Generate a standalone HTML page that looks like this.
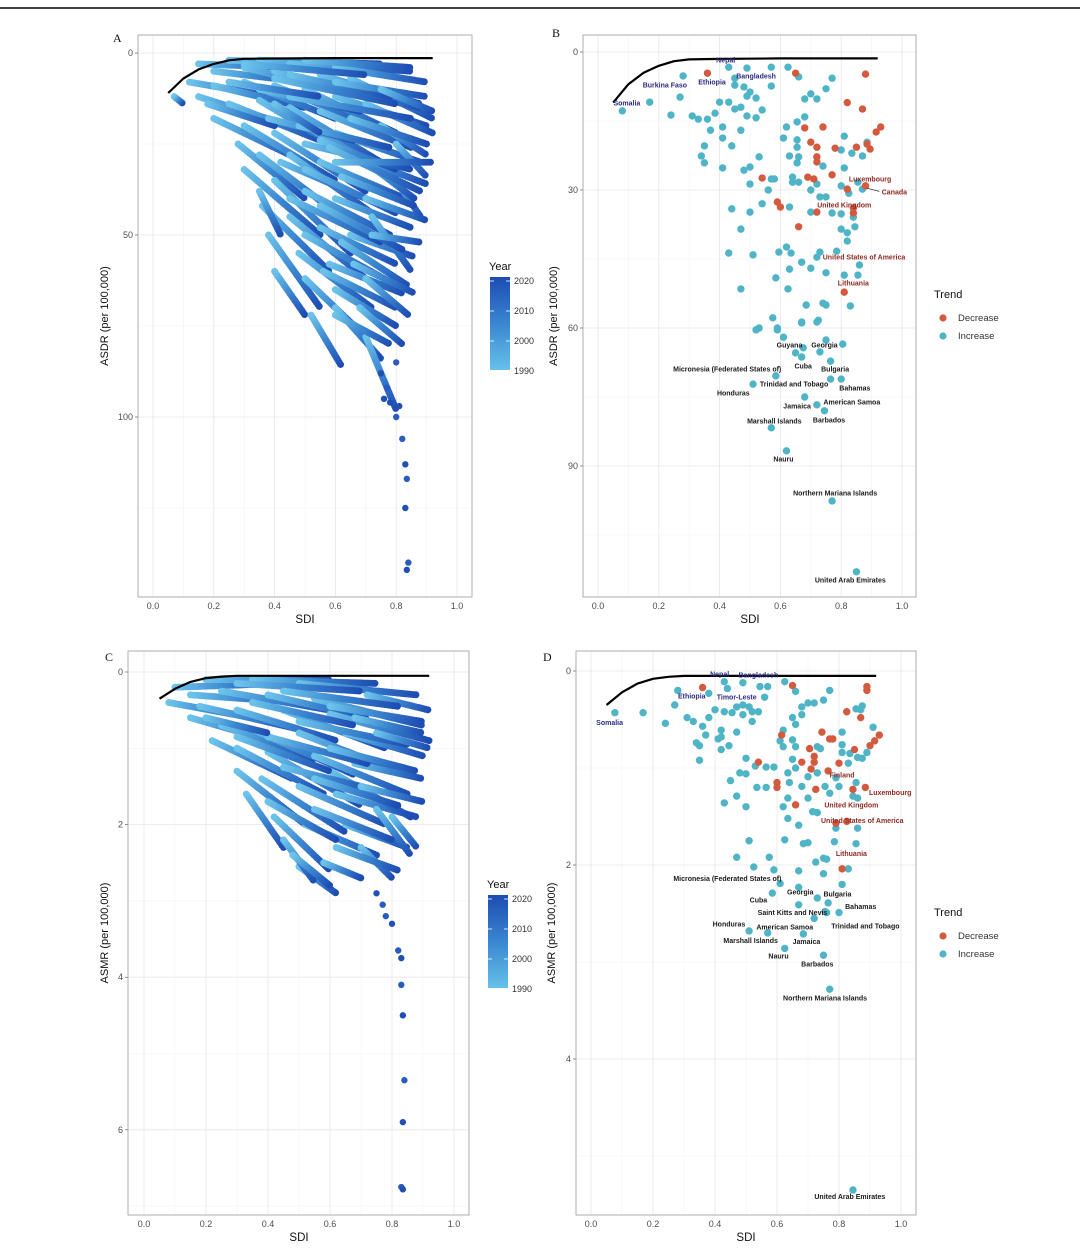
<!DOCTYPE html>
<html><head><meta charset="utf-8"><style>
html,body{margin:0;padding:0;background:#fff;}
svg{display:block;font-family:"Liberation Sans",sans-serif;}
</style></head><body>
<svg id="fig" width="1080" height="1252" viewBox="0 0 1080 1252" xmlns="http://www.w3.org/2000/svg">
<defs>
<linearGradient id="yearbar" x1="0" y1="0" x2="0" y2="1"><stop offset="0" stop-color="#1d4cb3"/><stop offset="0.5" stop-color="#3a86d0"/><stop offset="1" stop-color="#66c1ea"/></linearGradient>
</defs>
<line x1="0" y1="8" x2="1080" y2="8" stroke="#000" stroke-width="1.5"/>
</svg>
<script>
// ---------- DATA ----------
// Panel A trajectories: 1990 SDI, 1990 ASDR, 2021 SDI, 2021 ASDR
const aStartSDI=[0.15,0.25,0.35,0.45,0.6,0.2,0.3,0.4,0.55,0.65,0.12,0.2,0.3,0.4,0.5,0.6,0.07,0.15,0.25,0.35,0.45,0.55,0.7,0.2,0.3,0.4,0.5,0.6,0.28,0.35,0.45,0.55,0.65,0.3,0.4,0.5,0.6,0.36,0.45,0.55,0.65,0.38,0.48,0.58,0.4,0.5,0.6,0.52,0.6,0.68,0.7,0.35,0.75,0.8,0.72,0.62,0.7,0.45,0.55,
 0.3,0.5,0.4,0.6,0.35,0.45,0.65,0.5,0.58,0.42,0.5,0.62,0.45,0.55,0.7,0.5,0.62,0.56,0.66,0.6,0.7,0.72,0.25,0.18,0.38,0.48,0.75,0.8,0.6,0.4];
const aStartVal=[3,2,2,3,4,5,4,5,6,7,8,9,8,9,10,12,12,12,14,13,15,16,14,18,20,22,20,22,25,28,28,30,28,32,35,38,40,42,45,48,50,50,55,58,60,62,65,72,70,70,78,38,20,35,45,10,30,6,24,
 3,2,7,8,10,12,18,25,26,30,32,34,40,42,40,50,52,60,58,72,62,50,8,14,18,20,10,25,30,14];
const aEndSDI=[0.45,0.6,0.75,0.85,0.9,0.5,0.6,0.7,0.88,0.92,0.4,0.5,0.6,0.72,0.8,0.9,0.1,0.45,0.55,0.65,0.75,0.85,0.92,0.5,0.6,0.7,0.8,0.88,0.5,0.62,0.72,0.83,0.9,0.55,0.65,0.78,0.85,0.58,0.7,0.8,0.86,0.55,0.72,0.82,0.5,0.7,0.8,0.62,0.75,0.82,0.8,0.42,0.9,0.88,0.85,0.88,0.86,0.78,0.8,
 0.7,0.85,0.8,0.9,0.68,0.85,0.9,0.85,0.88,0.7,0.8,0.86,0.75,0.82,0.9,0.76,0.84,0.8,0.86,0.78,0.84,0.88,0.55,0.4,0.66,0.78,0.92,0.9,0.92,0.55];
const aEndVal=[4,3,3,5,8,8,10,12,14,18,12,15,18,20,22,20,14,20,24,28,30,26,22,30,35,38,34,30,40,45,44,40,36,50,55,50,48,60,62,58,56,70,70,66,72,78,75,86,84,80,98,50,28,45,60,15,40,12,32,
 6,4,14,12,16,18,25,32,38,40,44,42,52,54,46,62,64,70,66,80,72,52,12,20,24,26,16,34,30,22];
const aTailSDI=[0.75,0.77,0.78,0.8,0.81,0.82,0.83,0.835,0.83,0.84,0.835,0.8,0.76];
const aTailVal=[88,92,96,100,97,106,113,117,125,140,142,85,95];
// Panel C trajectories (ASMR)
const cStartSDI=[0.1,0.2,0.35,0.5,0.15,0.25,0.4,0.55,0.08,0.18,0.3,0.45,0.6,0.15,0.25,0.35,0.5,0.65,0.22,0.3,0.4,0.55,0.68,0.3,0.38,0.5,0.62,0.33,0.42,0.52,0.65,0.5,0.45,0.7,0.72,0.6,0.75,
 0.3,0.45,0.6,0.35,0.5,0.4,0.6,0.45,0.55,0.7,0.4,0.55,0.62,0.48,0.2,0.75,0.68,0.3,0.58,0.8];
const cStartVal=[0.2,0.1,0.1,0.15,0.3,0.25,0.3,0.35,0.4,0.45,0.5,0.5,0.55,0.6,0.7,0.75,0.8,0.8,0.9,1.0,1.05,1.1,1.2,1.3,1.4,1.5,1.6,1.6,1.9,2.0,2.0,2.55,2.2,2.3,0.3,1.3,1.8,
 0.15,0.25,0.45,0.4,0.65,0.85,1.0,1.25,1.4,1.5,1.7,1.8,2.3,2.4,0.6,0.8,0.6,0.85,2.5,1.9];
const cEndSDI=[0.45,0.6,0.75,0.88,0.5,0.6,0.72,0.9,0.35,0.5,0.62,0.78,0.92,0.45,0.55,0.68,0.82,0.9,0.48,0.58,0.7,0.85,0.9,0.52,0.65,0.78,0.88,0.45,0.6,0.75,0.85,0.62,0.55,0.8,0.92,0.86,0.86,
 0.7,0.82,0.9,0.68,0.85,0.72,0.88,0.75,0.82,0.9,0.62,0.8,0.82,0.6,0.4,0.92,0.9,0.6,0.7,0.88];
const cEndVal=[0.15,0.1,0.15,0.3,0.4,0.5,0.6,0.7,0.6,0.75,0.9,1.0,0.9,0.95,1.15,1.35,1.3,1.1,1.4,1.6,1.75,1.6,1.4,2.0,2.1,2.0,1.9,2.3,2.6,2.4,2.3,2.9,2.75,2.7,0.5,1.9,2.4,
 0.25,0.45,0.65,0.7,0.95,1.2,1.3,1.55,1.75,1.7,2.2,2.2,2.6,2.8,0.8,1.0,0.8,1.3,2.7,2.3];
const cTailSDI=[0.75,0.78,0.8,0.82,0.83,0.83,0.835,0.84,0.835,0.83,0.835,0.77];
const cTailVal=[2.9,3.2,3.3,3.65,3.75,4.1,4.5,5.35,5.9,6.75,6.78,3.05];
// Frontier
const frontierSDI=[0.05,0.1,0.15,0.2,0.25,0.3,0.4,0.6,0.8,0.92];
const frontierASDR=[11,7,4.5,3,2,1.6,1.5,1.4,1.4,1.4];
const frontierASMR=[0.35,0.22,0.13,0.08,0.06,0.05,0.05,0.05,0.05,0.05];
// Panel B points
const bIncSDI=[.08,.17,.28,.27,.24,.31,.33,.36,.385,.40,.43,.45,.47,.49,.52,.54,.49,.50,.52,.43,.49,.45,.45,.48,.57,.57,.625,.66,.77,.75,.70,.68,.72,.37,.41,.41,.47,.35,.44,.34,.35,.41,.48,.50,.53,.50,.56,.57,.58,.62,.655,.68,.61,.655,.655,.63,.66,.655,.64,.64,.66,.70,.72,.73,.75,.74,.81,.81,.80,.835,.87,.885,.80,.825,.855,.87,.70,.77,.80,.84,.845,.82,.80,.82,.63,.54,.50,.44,.47,.43,.51,.595,.62,.635,.67,.70,.73,.72,.785,.75,.81,.855,.86,.63,.585,.47,.625,.685,.75,.83,.74,.67,.725,.575,.53,.59,.52,.59,.61,.67,.72,.75,.805,.675,.65,.67,.73,.765,.585,.51,.765,.80,.68,.72,.745,.57,.62,.77,.85];
const bIncVal=[12.8,10.9,5.2,9.8,13.7,13.9,14.6,14.6,13.3,10.9,10.9,12.4,12,13.9,14.3,12.6,9.6,8.7,10,3.3,3.5,5.7,7.2,7.6,7.4,3.3,3.3,5.4,5.7,8,9.1,10.2,10.2,17,16.3,18.7,17,20.4,20.4,22.6,24.1,25.2,25.7,25,22.8,28.7,30,27.6,27.6,16.3,15.2,14.1,18.7,19.1,20.7,22.6,22.8,24.1,27.2,28.3,28.3,30,28.7,31.5,31.5,24.8,25.2,18.3,21.3,22,22.6,19.6,29.1,30.7,28.3,29.8,34.8,35,35.2,35.9,38,39.3,38.5,41.1,33.7,33,34.8,34.1,38.5,43.7,44.1,43.5,42.4,43.7,45.7,47,43.5,44.6,43.3,48,48.5,48.5,46.3,47.2,49.1,51.5,51.5,55,55,55.2,54.6,58.7,58.3,57.8,60,60,60.4,60.4,62,58.9,58.7,62.6,63.5,64.3,65.4,66.3,65.2,67.2,70.4,72.2,71.1,71.1,75,76.7,78,81.7,86.7,97.6,113];
const bDecSDI=[.36,.65,.88,.82,.87,.68,.74,.70,.72,.78,.85,.885,.895,.915,.93,.72,.72,.69,.71,.77,.54,.82,.88,.59,.60,.72,.84,.84,.66,.81];
const bDecVal=[4.6,4.6,4.8,11,12.4,16.5,16.3,19.6,20.7,20.9,20.7,20,21.1,17.4,16.3,22.8,23.9,27.2,27.6,26.7,27.4,29.8,29.1,32.6,33.7,34.8,33.9,35,38,52.2];
// Panel D points
const dIncSDI=[.077,.168,.24,.27,.28,.31,.33,.36,.37,.34,.35,.35,.38,.40,.42,.41,.42,.42,.445,.43,.455,.47,.49,.51,.52,.54,.49,.52,.47,.43,.49,.44,.545,.57,.56,.38,.625,.66,.68,.70,.72,.75,.77,.68,.65,.66,.62,.61,.65,.62,.66,.73,.74,.81,.81,.81,.835,.86,.875,.89,.87,.855,.875,.91,.83,.50,.53,.565,.59,.65,.66,.635,.70,.73,.79,.48,.50,.45,.535,.565,.64,.68,.755,.77,.80,.845,.855,.86,.47,.43,.50,.62,.635,.70,.715,.73,.67,.635,.79,.86,.51,.625,.685,.70,.785,.855,.47,.525,.575,.59,.67,.725,.75,.76,.75,.83,.61,.67,.81,.585,.67,.73,.765,.755,.80,.76,.72,.51,.57,.685,.625,.75,.77,.845];
const dIncVal=[.43,.43,.54,.35,.2,.48,.52,.57,.66,.74,.77,.92,.48,.4,.61,.7,.68,.81,.77,.42,.43,.37,.35,.37,.42,.42,.45,.52,.63,.11,.12,.18,.16,.16,.27,.23,.11,.21,.37,.33,.33,.3,.2,.45,.48,.55,.61,.72,.71,.78,.78,.78,.8,.76,.63,.84,.85,.89,.9,.84,.4,.39,.36,.58,.95,.9,.98,.99,.99,.91,1.0,1.05,1.09,1.05,1.1,1.05,1.06,1.13,1.2,1.2,1.15,1.19,1.19,1.26,1.19,1.29,1.15,1.31,1.29,1.36,1.4,1.4,1.31,1.31,1.45,1.46,1.59,1.52,1.62,1.62,1.75,1.74,1.78,1.77,1.76,1.78,1.92,2.02,1.92,2.05,2.06,1.97,1.93,1.94,2.09,2.04,2.19,2.23,2.2,2.29,2.41,2.34,2.39,2.48,2.49,2.49,2.55,2.68,2.7,2.71,2.86,2.93,3.28,5.35];
const dDecSDI=[.36,.65,.89,.89,.825,.87,.615,.745,.77,.78,.705,.72,.68,.72,.71,.765,.80,.85,.90,.915,.93,.54,.60,.60,.725,.66,.845,.885,.79,.825,.81];
const dDecVal=[.17,.15,.16,.2,.42,.48,.66,.63,.7,.7,.8,.88,.94,.94,1.01,1.03,.95,.81,.77,.72,.66,.94,1.15,1.2,1.22,1.38,1.22,1.2,1.57,1.55,2.04];
// Country labels: text, SDI, value, group (0 navy, 1 red, 2 black)
const bLabelText=["Nepal","Bangladesh","Ethiopia","Burkina Faso","Somalia","Luxembourg","Canada","United Kingdom","United States of America","Lithuania","Guyana","Georgia","Micronesia (Federated States of)","Cuba","Bulgaria","Trinidad and Tobago","Bahamas","Honduras","American Samoa","Jamaica","Barbados","Marshall Islands","Nauru","Northern Mariana Islands","United Arab Emirates"];
const bLabelSDI=[.42,.52,.375,.22,.095,.895,.975,.81,.875,.84,.63,.745,.425,.675,.78,.645,.845,.445,.835,.655,.76,.58,.61,.78,.83];
const bLabelVal=[1.7,5.2,6.5,7.2,11.1,27.6,30.4,33.3,44.6,50.2,63.7,63.7,68.9,68.3,68.9,72.2,73,74.1,76.1,77,80,80.2,88.5,95.9,114.8];
const bLabelGroup=[0,0,0,0,0,1,1,1,1,1,2,2,2,2,2,2,2,2,2,2,2,2,2,2,2];
const dLabelText=["Nepal","Bangladesh","Ethiopia","Timor-Leste","Somalia","Finland","Luxembourg","United Kingdom","United States of America","Lithuania","Micronesia (Federated States of)","Georgia","Bulgaria","Cuba","Bahamas","Saint Kitts and Nevis","Honduras","American Samoa","Trinidad and Tobago","Marshall Islands","Jamaica","Nauru","Barbados","Northern Mariana Islands","United Arab Emirates"];
const dLabelSDI=[.415,.54,.325,.47,.06,.81,.965,.84,.875,.84,.44,.675,.795,.54,.87,.65,.445,.625,.885,.515,.695,.605,.73,.755,.835];
const dLabelVal=[.03,.04,.26,.27,.53,1.07,1.25,1.38,1.54,1.88,2.14,2.28,2.3,2.36,2.43,2.49,2.61,2.64,2.63,2.78,2.79,2.94,3.02,3.37,5.42];
const dLabelGroup=[0,0,0,0,0,1,1,1,1,1,2,2,2,2,2,2,2,2,2,2,2,2,2,2,2];
const sdiTicks=[0,0.2,0.4,0.6,0.8,1.0];
const sdiTickLabels=["0.0","0.2","0.4","0.6","0.8","1.0"];

// ---------- DRAW ----------
const NS="http://www.w3.org/2000/svg";
const svg=document.getElementById('fig');
function mk(tag,attrs,parent){const e=document.createElementNS(NS,tag);for(const k in attrs)e.setAttribute(k,attrs[k]);(parent||svg).appendChild(e);return e;}

const panels={
 A:{L:138,R:472,T:35,B:597,x0:153,x1:457,v0:53,k:3.64,ticks:[0,50,100],minor:[25,75,125],yt:"ASDR (per 100,000)",ytx:108,letter:[113,42]},
 B:{L:583,R:916,T:35,B:597,x0:598,x1:902,v0:52,k:4.6,ticks:[0,30,60,90],minor:[15,45,75,105],yt:"ASDR (per 100,000)",ytx:557,letter:[552,37]},
 C:{L:128,R:469,T:651,B:1215,x0:144,x1:454,v0:672,k:76.3,ticks:[0,2,4,6],minor:[1,3,5,7],yt:"ASMR (per 100,000)",ytx:108,letter:[105,661]},
 D:{L:576,R:916,T:651,B:1215,x0:591,x1:901,v0:671,k:97,ticks:[0,2,4],minor:[1,3,5],yt:"ASMR (per 100,000)",ytx:555,letter:[543,661]}
};
function xs(p,s){return p.x0+(p.x1-p.x0)*s;}
function ys(p,v){return p.v0+p.k*v;}

function drawFrame(id){
 const p=panels[id];
 const g=mk('g',{});
 
 
 const bg=mk('rect',{x:p.L,y:p.T,width:p.R-p.L,height:p.B-p.T,fill:'#fff'},g);
 
 
 for(let s=0.1;s<1;s+=0.2){const l=mk('line',{x1:xs(p,s),x2:xs(p,s),y1:p.T,y2:p.B,stroke:'#f3f3f3','stroke-width':0.6},g);}
 p.minor.forEach(v=>{const y=ys(p,v);if(y<p.B){const l=mk('line',{x1:p.L,x2:p.R,y1:y,y2:y,stroke:'#f3f3f3','stroke-width':0.6},g);}});
 sdiTicks.forEach((s,i)=>{
  const l=mk('line',{x1:xs(p,s),x2:xs(p,s),y1:p.T,y2:p.B,stroke:'#e6e6e6','stroke-width':0.8},g);
  
  
  const t=mk('text',{x:xs(p,s),y:p.B+12,'text-anchor':'middle','font-size':9,fill:'#4d4d4d'},g);
  t.textContent=sdiTickLabels[i];
  
  
 });
 p.ticks.forEach(v=>{
  const y=ys(p,v);
  const l=mk('line',{x1:p.L,x2:p.R,y1:y,y2:y,stroke:'#e6e6e6','stroke-width':0.8},g);
  
  
  mk('line',{x1:p.L-3,x2:p.L,y1:y,y2:y,stroke:'#444','stroke-width':0.6},g);
  const t=mk('text',{x:p.L-5,y:y+3,'text-anchor':'end','font-size':9,fill:'#4d4d4d'},g);
  t.textContent=String(v);
  
  
 });
 const br=mk('rect',{x:p.L,y:p.T,width:p.R-p.L,height:p.B-p.T,fill:'none',stroke:'#9a9a9a','stroke-width':0.8},g);
 
 
 const xt=mk('text',{x:(p.x0+p.x1)/2,y:p.B+26,'text-anchor':'middle','font-size':11.5,fill:'#111'},g);
 xt.textContent='SDI';
 
 
 const cy=(p.T+p.B)/2;
 const yt=mk('text',{x:p.ytx,y:cy,'text-anchor':'middle','font-size':11,fill:'#111',transform:`rotate(-90 ${p.ytx} ${cy})`},g);
 yt.textContent=p.yt;
 
 
 const lt=mk('text',{x:p.letter[0],y:p.letter[1],'font-size':12,fill:'#111','font-family':'Liberation Serif, serif'},g);
 lt.textContent=id;
 
 
 return g;
}

function drawFrontier(id,vals,g){
 const p=panels[id];
 let d='';
 frontierSDI.forEach((s,i)=>{d+=(i?'L':'M')+xs(p,s).toFixed(1)+' '+ys(p,vals[i]).toFixed(1);});
 const path=mk('path',{d:d,fill:'none',stroke:'#000','stroke-width':2.2,'stroke-linejoin':'round'},g);
 
 
}

let gid=0;
function drawTraj(id,sS,sV,eS,eV,tS,tV){
 const g=drawFrame(id);const p=panels[id];
 const defs=svg.querySelector('defs');
 for(let i=0;i<sS.length;i++){
  const x1=xs(p,sS[i]),y1=ys(p,sV[i]),x2=xs(p,eS[i]),y2=ys(p,eV[i]);
  const gr=mk('linearGradient',{id:'tg'+gid,gradientUnits:'userSpaceOnUse',x1:x1,y1:y1,x2:x2,y2:y2},defs);
  mk('stop',{offset:0,'stop-color':'#6cc3ea'},gr);mk('stop',{offset:0.5,'stop-color':'#3a84cf'},gr);mk('stop',{offset:1,'stop-color':'#1d4cb3'},gr);
  const l=mk('line',{x1:x1,y1:y1,x2:x2,y2:y2,stroke:`url(#tg${gid})`,'stroke-width':7,'stroke-linecap':'round','stroke-dasharray':'0 2.5'},g);
  
  
  gid++;
 }
 for(let i=0;i<tS.length;i++){
  const c=mk('circle',{cx:xs(p,tS[i]),cy:ys(p,tV[i]),r:3.2,fill:i%2?'#2a5cbf':'#2050b5'},g);
  
  
 }
 drawFrontier(id,id==='A'?frontierASDR:frontierASMR,g);
}

function drawScatter(id,iS,iV,dS,dV,lt,ls,lv,lg,fr){
 const g=drawFrame(id);const p=panels[id];
 for(let i=0;i<iS.length;i++){const c=mk('circle',{cx:xs(p,iS[i]),cy:ys(p,iV[i]),r:3.7,fill:'#4fb5c6'},g);}
 for(let i=0;i<dS.length;i++){const c=mk('circle',{cx:xs(p,dS[i]),cy:ys(p,dV[i]),r:3.7,fill:'#d35a3f'},g);}
 drawFrontier(id,fr,g);
 const cols=['#2c2a80','#8e2a22','#1a1a1a'];
 for(let i=0;i<lt.length;i++){
  const t=mk('text',{x:xs(p,ls[i]),y:ys(p,lv[i])+2.5,'text-anchor':'middle','font-size':7,'font-weight':'bold',fill:cols[lg[i]]},g);
  t.textContent=lt[i];
  
  
 }
}

function yearLegend(x,y){
 const g=mk('g',{});
 
 
 const t=mk('text',{x:x,y:y,'font-size':11,fill:'#111'},g);t.textContent='Year';
 mk('rect',{x:x+1,y:y+7,width:20,height:93,fill:'url(#yearbar)'},g);
 const yrs=['2020','2010','2000','1990'];
 yrs.forEach((s,i)=>{const yy=y+11+i*30;
  mk('line',{x1:x+1,x2:x+5,y1:yy,y2:yy,stroke:'#fff','stroke-width':0.8},g);
  mk('line',{x1:x+17,x2:x+21,y1:yy,y2:yy,stroke:'#fff','stroke-width':0.8},g);
  const l=mk('text',{x:x+25,y:yy+3,'font-size':9,fill:'#333'},g);l.textContent=s;});
}
function trendLegend(x,y){
 const g=mk('g',{});
 
 
 const t=mk('text',{x:x,y:y,'font-size':11,fill:'#111'},g);t.textContent='Trend';
 mk('circle',{cx:x+9,cy:y+20,r:3.6,fill:'#d35a3f'},g);
 const a=mk('text',{x:x+24,y:y+23,'font-size':9.5,fill:'#333'},g);a.textContent='Decrease';
 mk('circle',{cx:x+9,cy:y+38,r:3.6,fill:'#4fb5c6'},g);
 const b=mk('text',{x:x+24,y:y+41,'font-size':9.5,fill:'#333'},g);b.textContent='Increase';
}

drawTraj('A',aStartSDI,aStartVal,aEndSDI,aEndVal,aTailSDI,aTailVal);
drawScatter('B',bIncSDI,bIncVal,bDecSDI,bDecVal,bLabelText,bLabelSDI,bLabelVal,bLabelGroup,frontierASDR);
drawTraj('C',cStartSDI,cStartVal,cEndSDI,cEndVal,cTailSDI,cTailVal);
drawScatter('D',dIncSDI,dIncVal,dDecSDI,dDecVal,dLabelText,dLabelSDI,dLabelVal,dLabelGroup,frontierASMR);
yearLegend(489,270);
yearLegend(487,888);
trendLegend(934,298);
trendLegend(934,916);
// Canada leader line in B
const cl=mk('line',{x1:xs(panels.B,0.885),y1:ys(panels.B,29.6),x2:xs(panels.B,0.925),y2:ys(panels.B,30.3),stroke:'#333','stroke-width':0.7});


</script>
</body></html>
